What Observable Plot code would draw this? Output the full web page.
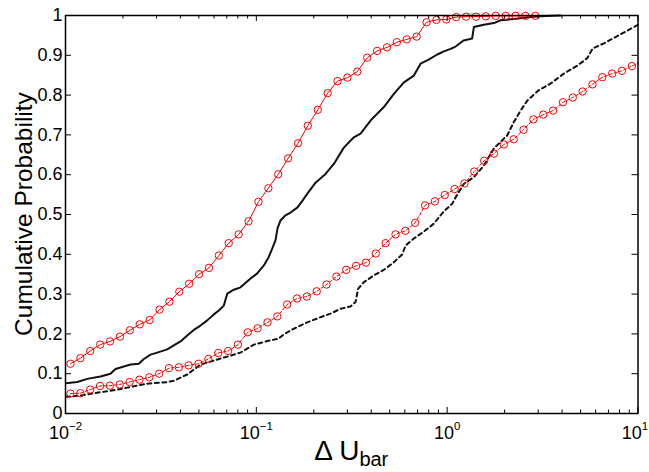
<!DOCTYPE html>
<html><head><meta charset="utf-8">
<script src="https://cdn.jsdelivr.net/npm/d3@7"></script>
<script src="https://cdn.jsdelivr.net/npm/@observablehq/plot@0.6"></script>
<style>html,body{margin:0;padding:0;background:#fff}</style>
</head><body><div id="chart"></div>
<script>
// ---- data ----
const redSolidX = [0.01062,0.01197,0.01348,0.01520,0.01712,0.01929,0.02174,0.02449,0.02760,0.03110,0.03504,0.03948,0.04448,0.05012,0.05647,0.06363,0.07170,0.08078,0.09102,0.1026,0.1156,0.1302,0.1467,0.1653,0.1862,0.2099,0.2365,0.2664,0.3002,0.3382,0.3811,0.4294,0.4838,0.5451,0.6142,0.6921,0.7798,0.8785,0.9899,1.115,1.256,1.416,1.595,1.797,2.025,2.282,2.571,2.897];
const redSolidY = [0.125,0.139,0.157,0.173,0.181,0.193,0.209,0.224,0.235,0.261,0.281,0.306,0.326,0.350,0.366,0.397,0.428,0.450,0.483,0.532,0.566,0.601,0.641,0.679,0.723,0.763,0.805,0.835,0.844,0.859,0.894,0.911,0.920,0.933,0.940,0.947,0.983,0.989,0.990,0.996,0.997,0.997,0.998,0.999,0.999,0.999,0.999,0.999];

const redDashX = [0.01062,0.01196,0.01347,0.01517,0.01708,0.01924,0.02167,0.02441,0.02749,0.03095,0.03486,0.03926,0.04421,0.04979,0.05607,0.06314,0.07111,0.08009,0.09020,0.1016,0.1144,0.1288,0.1451,0.1634,0.1840,0.2072,0.2333,0.2628,0.2959,0.3333,0.3753,0.4227,0.4760,0.5361,0.6037,0.6799,0.7657,0.8623,0.9712,1.094,1.232,1.387,1.562,1.759,1.982,2.232,2.513,2.831,3.188,3.589,4.043,4.553,5.127,5.774,6.501,7.322,8.245,9.287];
const redDashY = [0.050,0.051,0.060,0.069,0.070,0.073,0.079,0.085,0.091,0.100,0.114,0.116,0.121,0.125,0.137,0.152,0.157,0.173,0.204,0.214,0.229,0.244,0.274,0.289,0.294,0.307,0.324,0.344,0.361,0.371,0.379,0.402,0.428,0.450,0.459,0.479,0.523,0.533,0.549,0.564,0.578,0.608,0.635,0.653,0.676,0.689,0.713,0.739,0.751,0.761,0.782,0.794,0.809,0.827,0.845,0.854,0.861,0.873];
const redDashTailX = [10];
const redDashTailY = [0.880];

const blackSolidX = [0.01006,0.01152,0.01299,0.01525,0.01721,0.01829,0.02021,0.02191,0.02423,0.02573,0.02790,0.03024,0.03412,0.03694,0.04006,0.04344,0.04704,0.05100,0.05529,0.05988,0.06360,0.06755,0.07040,0.07624,0.08265,0.09325,0.1011,0.1095,0.1158,0.1211,0.1260,0.1291,0.1339,0.1422,0.1511,0.1644,0.1746,0.1855,0.2043,0.2305,0.2548,0.2874,0.3243,0.3517,0.3968,0.4658,0.5256,0.5932,0.6692,0.7255,0.7991,0.8873,0.9610,1.042,1.107,1.219,1.351,1.380,1.557,1.757,1.905,2.237,2.736,3.278,3.929];
const blackSolidY = [0.076,0.079,0.087,0.093,0.100,0.112,0.118,0.123,0.125,0.137,0.148,0.153,0.161,0.171,0.181,0.196,0.210,0.221,0.234,0.249,0.259,0.271,0.301,0.311,0.317,0.339,0.352,0.372,0.392,0.414,0.435,0.465,0.485,0.498,0.505,0.518,0.535,0.553,0.580,0.602,0.627,0.668,0.694,0.703,0.736,0.770,0.803,0.832,0.849,0.879,0.889,0.902,0.910,0.916,0.922,0.937,0.942,0.971,0.977,0.981,0.988,0.991,0.996,0.999,1.0];

const blackDashX = [0.01006,0.01198,0.01407,0.01721,0.02105,0.02680,0.03412,0.03694,0.04344,0.05100,0.05988,0.07040,0.08265,0.09703,0.1141,0.1307,0.1405,0.1573,0.1849,0.2170,0.2448,0.2762,0.3116,0.3311,0.3412,0.3659,0.4129,0.4658,0.5256,0.5818,0.6053,0.6748,0.7550,0.8516,0.9610,1.063,1.107,1.223,1.380,1.557,1.757,2.065,2.228,2.424,2.629,3.013,3.483,4.089,4.807,5.424,5.783,6.627,7.913,9.517,10];
const blackDashY = [0.042,0.045,0.051,0.057,0.065,0.075,0.079,0.082,0.098,0.123,0.133,0.143,0.153,0.173,0.182,0.188,0.200,0.213,0.229,0.242,0.251,0.263,0.269,0.280,0.313,0.330,0.347,0.361,0.380,0.400,0.422,0.441,0.457,0.477,0.508,0.527,0.543,0.577,0.594,0.623,0.666,0.699,0.731,0.761,0.786,0.812,0.829,0.854,0.874,0.893,0.917,0.930,0.950,0.971,0.977];

const xMajorTicks = [0.01, 0.1, 1, 10];
const xTickBase = ["10", "10", "10", "10"];
const xTickExp = ["\u22122", "\u22121", "0", "1"];
const xMinorTicks = [0.02,0.03,0.04,0.05,0.06,0.07,0.08,0.09,0.2,0.3,0.4,0.5,0.6,0.7,0.8,0.9,2,3,4,5,6,7,8,9];
const yTicks = [0,0.1,0.2,0.3,0.4,0.5,0.6,0.7,0.8,0.9,1];
const yTickLabels = ["0","0.1","0.2","0.3","0.4","0.5","0.6","0.7","0.8","0.9","1"];
const xLabelMain = "\u0394 U";
const xLabelSub = "bar";
const yLabel = "Cumulative Probability";

// ---- layout ----
const W = 649, H = 472, mL = 65, mR = 11.5, mT = 15, mB = 59;
const innerW = W - mL - mR, innerH = H - mT - mB;
const FONT = "'Liberation Sans', Arial, Helvetica, sans-serif";

const zip = (xs, ys) => xs.map((x, i) => ({x, y: ys[i]}));
const redSolid = zip(redSolidX, redSolidY);
const redDash = zip(redDashX, redDashY);
const redDashLine = redDash.concat(zip(redDashTailX, redDashTailY));
const blackSolid = zip(blackSolidX, blackSolidY);
const blackDash = zip(blackDashX, blackDashY);

const plot = Plot.plot({
  width: W, height: H,
  marginLeft: mL, marginRight: mR, marginTop: mT, marginBottom: mB,
  style: {fontFamily: FONT, fontSize: "18px", color: "#000", background: "#fff", overflow: "visible"},
  x: {type: "log", domain: [0.01, 10]},
  y: {domain: [0, 1]},
  marks: [
    Plot.line(blackDash, {x: "x", y: "y", stroke: "#111", strokeWidth: 2, strokeDasharray: "4,3.5"}),
    Plot.line(blackSolid, {x: "x", y: "y", stroke: "#111", strokeWidth: 2}),
    Plot.line(redDashLine, {x: "x", y: "y", stroke: "#ff0000", strokeWidth: 1, strokeDasharray: "3,2"}),
    Plot.dot(redDash, {x: "x", y: "y", r: 3.7, stroke: "#ff0000", fill: "none", strokeWidth: 1}),
    Plot.line(redSolid, {x: "x", y: "y", stroke: "#ff0000", strokeWidth: 1}),
    Plot.dot(redSolid, {x: "x", y: "y", r: 3.7, stroke: "#ff0000", fill: "none", strokeWidth: 1}),
    // inward ticks (bottom / top)
    Plot.tickX(xMajorTicks, {x: d => d, insetTop: innerH - 6, stroke: "#000", strokeWidth: 1}),
    Plot.tickX(xMajorTicks, {x: d => d, insetBottom: innerH - 6, stroke: "#000", strokeWidth: 1}),
    Plot.tickX(xMinorTicks, {x: d => d, insetTop: innerH - 3.5, stroke: "#000", strokeWidth: 1}),
    Plot.tickX(xMinorTicks, {x: d => d, insetBottom: innerH - 3.5, stroke: "#000", strokeWidth: 1}),
    // inward ticks (left / right)
    Plot.tickY(yTicks, {y: d => d, insetRight: innerW - 6, stroke: "#000", strokeWidth: 1}),
    Plot.tickY(yTicks, {y: d => d, insetLeft: innerW - 6, stroke: "#000", strokeWidth: 1}),
    Plot.axisX(xMajorTicks, {tickSize: 0, tickPadding: 13, fontSize: 18, label: null,
      tickFormat: d => xTickBase[xMajorTicks.indexOf(d)] + "^" + xTickExp[xMajorTicks.indexOf(d)]}),
    Plot.axisY(yTicks, {tickSize: 0, tickPadding: 3, fontSize: 18, label: null,
      tickFormat: d => yTickLabels[yTicks.indexOf(d)]}),
    Plot.frame({stroke: "#000", strokeWidth: 1.5})
  ]
});

document.getElementById("chart").appendChild(plot);

const svg = d3.select(plot);
// superscript exponents on the log tick labels
const expTexts = svg.selectAll("text").filter(function() { return this.textContent.includes("^"); });
const nExp = expTexts.size();
expTexts.each(function(_, i) {
  const [base, exp] = this.textContent.split("^");
  const t = d3.select(this);
  t.text(base);
  t.append("tspan").attr("dy", -9).attr("font-size", 11.5).text(exp);
  // keep the right-most label inside the picture
  if (i === nExp - 1) t.attr("dx", -3);
});

// y-axis title
svg.append("text")
  .attr("transform", `translate(32,${mT + innerH / 2}) rotate(-90)`)
  .attr("text-anchor", "middle")
  .attr("font-family", FONT)
  .attr("font-size", 24.5)
  .attr("fill", "#000")
  .text(yLabel);

// x-axis title with subscript
const xl = svg.append("text")
  .attr("x", mL + innerW / 2)
  .attr("y", 460)
  .attr("text-anchor", "middle")
  .attr("font-family", FONT)
  .attr("font-size", 28)
  .attr("fill", "#000")
  .text(xLabelMain);
xl.append("tspan").attr("dy", 6).attr("font-size", 20).text(xLabelSub);
</script>
</body></html>
